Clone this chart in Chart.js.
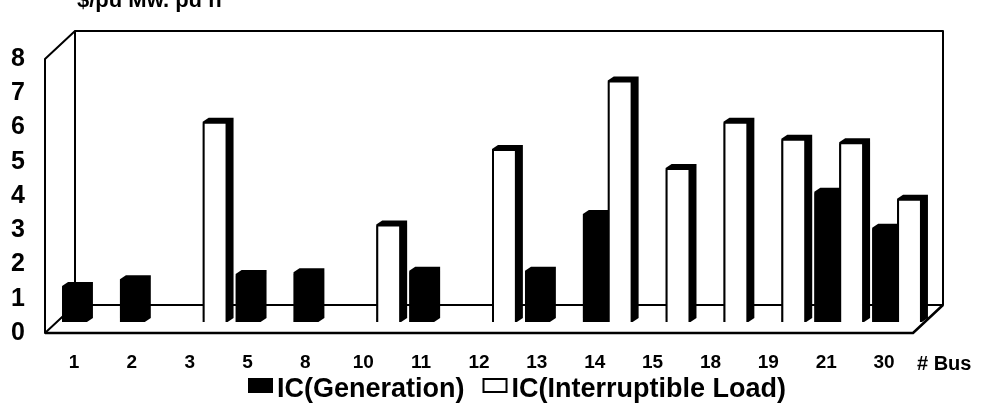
<!DOCTYPE html>
<html>
<head>
<meta charset="utf-8">
<script src="https://cdn.jsdelivr.net/npm/chart.js@4.4.1/dist/chart.umd.min.js"></script>
<style>
  html, body { margin: 0; padding: 0; background: #fff; }
  canvas { display: block; }
</style>
</head>
<body>
<canvas id="myChart" width="984" height="416"></canvas>
<script>
let myChart; // Variable global para el gráfico

// Barras (# Bus)
const labels = ["1", "2", "3", "5", "8", "10", "11", "12", "13", "14", "15", "18", "19", "21", "30"];
// IC(Generation) - null donde no hay barra
const icGeneration = [1.05, 1.25, null, 1.4, 1.45, null, 1.5, null, 1.5, 3.15, null, null, null, 3.8, 2.75];
// IC(Interruptible Load)
const icLoad = [null, null, 5.85, null, null, 2.85, null, 5.05, null, 7.05, 4.5, 5.85, 5.35, 5.25, 3.6];
const yTicks = [0, 1, 2, 3, 4, 5, 6, 7, 8];

const FONT = "'Liberation Sans', Arial, sans-serif";
const DEPTH_X = 6; // profundidad de las barras
const DEPTH_Y = 4;

// Caja 3D (pared del fondo, pared izquierda y piso)
const marco3d = {
  id: "marco3d",
  beforeDatasetsDraw(chart) {
    const a = chart.chartArea;
    const ctx = chart.ctx;
    const f = { l: a.left - 13, r: a.right - 13, t: a.top + 11, b: a.bottom + 11 }; // plano frontal
    const k = { l: a.left + 17, r: a.right + 17, t: a.top - 17, b: a.bottom - 17 }; // plano del fondo
    ctx.save();
    ctx.strokeStyle = "#000";
    ctx.lineWidth = 2;
    ctx.lineJoin = "round";
    // pared del fondo
    ctx.beginPath();
    ctx.rect(k.l, k.t, k.r - k.l, k.b - k.t);
    ctx.stroke();
    // pared izquierda
    ctx.beginPath();
    ctx.moveTo(k.l, k.t);
    ctx.lineTo(f.l, f.t);
    ctx.lineTo(f.l, f.b);
    ctx.lineTo(k.l, k.b);
    ctx.stroke();
    // piso
    ctx.lineWidth = 2.5;
    ctx.beginPath();
    ctx.moveTo(f.l, f.b);
    ctx.lineTo(f.r, f.b);
    ctx.lineTo(k.r, k.b);
    ctx.stroke();

    // caras laterales y superiores de las barras (se dibujan antes, la barra las tapa)
    ctx.fillStyle = "#000";
    chart.data.datasets.forEach((ds, i) => {
      const meta = chart.getDatasetMeta(i);
      meta.data.forEach((bar, j) => {
        if (ds.data[j] === null) return;
        const p = bar.getProps(["x", "y", "base", "width"], true);
        const l = p.x - p.width / 2;
        const r = p.x + p.width / 2;
        ctx.beginPath();
        ctx.moveTo(l, p.y);
        ctx.lineTo(l + DEPTH_X, p.y - DEPTH_Y);
        ctx.lineTo(r + DEPTH_X, p.y - DEPTH_Y);
        ctx.lineTo(r + DEPTH_X, p.base - DEPTH_Y);
        ctx.lineTo(r, p.base);
        ctx.lineTo(l, p.base);
        ctx.closePath();
        ctx.fill();
      });
    });
    ctx.restore();
  },
  afterDraw(chart) {
    const ctx = chart.ctx;
    ctx.save();
    ctx.fillStyle = "#000";
    // titulo del eje (cortado arriba)
    ctx.font = "bold 22px " + FONT;
    ctx.textBaseline = "alphabetic";
    ctx.textAlign = "left";
    ctx.fillText("$/pu Mw. pu h", 77, 7);
    // etiqueta del eje x
    ctx.font = "bold 20px " + FONT;
    ctx.textBaseline = "middle";
    ctx.fillText("# Bus", 917, 364);

    // Leyenda
    ctx.font = "bold 27px " + FONT;
    ctx.textBaseline = "alphabetic";
    let x = 248;
    chart.data.datasets.forEach((ds) => {
      ctx.fillStyle = ds.backgroundColor;
      ctx.fillRect(x, 378, 25, 15);
      ctx.strokeStyle = "#000";
      ctx.lineWidth = 2;
      ctx.strokeRect(x + 1, 379, 23, 13);
      ctx.fillStyle = "#000";
      ctx.fillText(ds.label, x + 29, 397);
      x += 29 + ctx.measureText(ds.label).width + 18;
    });
    ctx.restore();
  },
};

const ctx = document.getElementById("myChart").getContext("2d");

myChart = new Chart(ctx, {
  type: "bar",
  data: {
    labels: labels,
    datasets: [
      {
        label: "IC(Generation)",
        data: icGeneration,
        backgroundColor: "#000",
        borderColor: "#000",
        borderWidth: 1,
        borderRadius: 2,
      },
      {
        label: "IC(Interruptible Load)",
        data: icLoad,
        backgroundColor: "#fff",
        borderColor: "#000",
        borderWidth: 2,
        borderRadius: 2,
      },
    ],
  },
  options: {
    responsive: false,
    animation: false,
    devicePixelRatio: 1,
    layout: { padding: { top: 41, right: 58, left: 0, bottom: 0 } },
    categoryPercentage: 0.86,
    barPercentage: 1,
    plugins: {
      legend: { display: false },
      tooltip: { enabled: false },
    },
    scales: {
      x: {
        grid: { display: false, drawTicks: false },
        border: { display: false },
        ticks: {
          color: "#000",
          font: { family: FONT, size: 19, weight: "bold" },
          padding: 29,
          labelOffset: -13,
          maxRotation: 0,
          autoSkip: false,
        },
        afterFit(scale) {
          scale.height = 94;
        },
      },
      y: {
        min: 0,
        max: 8,
        grid: { display: false, drawTicks: false },
        border: { display: false },
        afterBuildTicks(scale) {
          scale.ticks = yTicks.map((v) => ({ value: v }));
        },
        ticks: {
          color: "#000",
          font: { family: FONT, size: 25, weight: "bold" },
          padding: 33,
          labelOffset: 11,
        },
        afterFit(scale) {
          scale.width = 58;
        },
      },
    },
  },
  plugins: [marco3d],
});
</script>
</body>
</html>
